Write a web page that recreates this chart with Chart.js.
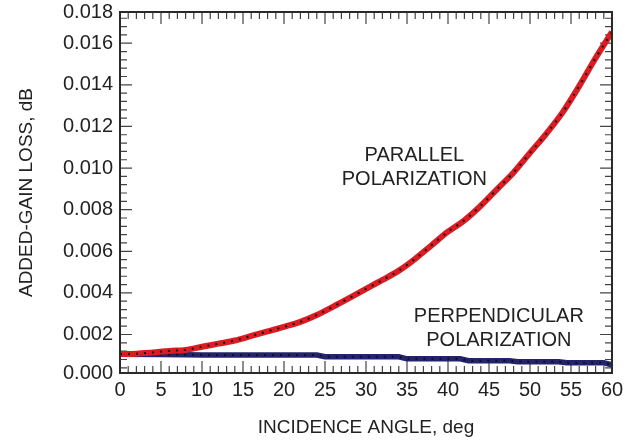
<!DOCTYPE html>
<html>
<head>
<meta charset="utf-8">
<script src="https://cdn.jsdelivr.net/npm/chart.js@4"></script>
<style>
  html, body { margin: 0; padding: 0; background: #fff; }
  #wrap { width: 625px; height: 446px; }
</style>
</head>
<body>
<div id="wrap"><canvas id="lossChart" width="625" height="446"></canvas></div>
<script>
// incidence angle (deg) and added-gain loss (dB)
const parAngles = [0, 2, 4, 6, 8, 10, 12, 14, 16, 18, 20, 22, 24, 26, 28, 30,
    32, 34, 36, 38, 40, 42, 44, 46, 48, 50, 52, 54, 56, 58, 60];
const parLoss = [0.00106, 0.00108, 0.00114, 0.00121, 0.00126, 0.00141, 0.00156, 0.00171,
    0.00193, 0.00215, 0.00237, 0.00261, 0.00294, 0.00334, 0.00376, 0.00419,
    0.00462, 0.00507, 0.00564, 0.00629, 0.00694, 0.00749, 0.00819, 0.00899,
    0.00979, 0.01073, 0.01166, 0.01269, 0.01394, 0.01529, 0.01654];

const perpAngles = [0, 5, 8, 10, 24, 25, 34, 35, 41.5, 42.5, 47.5, 48.5, 53.5, 54.5, 59, 60];
const perpLoss = [0.00105, 0.00104, 0.00103, 0.00101, 0.00101, 0.00093, 0.00093, 0.00083,
    0.00083, 0.00074, 0.00074, 0.00069, 0.00069, 0.00064, 0.00064, 0.00054];

const yTicks = [0.00015, 0.002, 0.004, 0.006, 0.008, 0.010, 0.012, 0.014, 0.016, 0.0175];
const yTickLabels = ["0.000", "0.002", "0.004", "0.006", "0.008", "0.010",
    "0.012", "0.014", "0.016", "0.018"];

const labels = [
    { text: ["PARALLEL", "POLARIZATION"], x: 35.9, y: 0.0106 },
    { text: ["PERPENDICULAR", "POLARIZATION"], x: 46.2, y: 0.00285 }
];

const pts = (xs, ys) => xs.map((x, i) => ({ x: x, y: ys[i] }));
const FONT = "'Liberation Sans', Arial, Helvetica, sans-serif";
const INK = "#222";

// frame with inward ticks on all four sides, plus the text labels
const frameTicks = {
    id: "frameTicks",
    beforeDatasetsDraw(chart) {
        const { ctx, chartArea: a, scales } = chart;
        ctx.save();
        ctx.strokeStyle = "#444";
        ctx.lineWidth = 1.2;
        ctx.beginPath();
        for (let d = 0; d <= 60; d++) {
            const px = scales.x.getPixelForValue(d);
            const len = d % 5 === 0 ? 12 : 7;
            ctx.moveTo(px, a.bottom); ctx.lineTo(px, a.bottom - len);
            ctx.moveTo(px, a.top); ctx.lineTo(px, a.top + len);
        }
        for (let k = 1; k <= 43; k++) {
            const v = k * 0.0004;
            if (v > scales.y.max || v < scales.y.min) continue;
            const py = scales.y.getPixelForValue(v);
            const len = k % 5 === 0 ? 12 : 7;
            ctx.moveTo(a.left, py); ctx.lineTo(a.left + len, py);
            ctx.moveTo(a.right, py); ctx.lineTo(a.right - len, py);
        }
        ctx.stroke();
        ctx.restore();
    },
    afterDatasetsDraw(chart) {
        const { ctx, chartArea: a, scales } = chart;
        ctx.save();
        ctx.strokeStyle = "#2a2a2a";
        ctx.lineWidth = 2;
        ctx.strokeRect(a.left, a.top, a.right - a.left, a.bottom - a.top);
        ctx.fillStyle = INK;
        ctx.font = "20px " + FONT;
        ctx.textAlign = "center";
        ctx.textBaseline = "middle";
        labels.forEach(l => {
            const px = scales.x.getPixelForValue(l.x);
            const py = scales.y.getPixelForValue(l.y);
            l.text.forEach((t, i) => ctx.fillText(t, px, py + i * 24));
        });
        ctx.restore();
    }
};

// index 0 is drawn on top
new Chart(document.getElementById("lossChart"), {
    type: "line",
    data: {
        datasets: [
            { data: pts(parAngles, parLoss), borderColor: "#111", borderWidth: 2, borderDash: [2, 6], cubicInterpolationMode: "monotone" },
            { data: pts(parAngles, parLoss), borderColor: "#dc1c22", borderWidth: 6, cubicInterpolationMode: "monotone" },
            { data: pts(perpAngles, perpLoss), borderColor: "#111", borderWidth: 2, borderDash: [2, 6] },
            { data: pts(perpAngles, perpLoss), borderColor: "#23236e", borderWidth: 5.5 }
        ]
    },
    options: {
        responsive: false,
        animation: false,
        elements: { point: { radius: 0 }, line: { borderCapStyle: "butt" } },
        layout: { padding: { top: 12, right: 13, left: 0, bottom: 0 } },
        plugins: { legend: { display: false }, tooltip: { enabled: false } },
        scales: {
            x: {
                type: "linear",
                min: 0,
                max: 60,
                grid: { display: false, drawTicks: false },
                border: { display: false },
                ticks: { stepSize: 5, padding: 5, color: INK, font: { family: FONT, size: 20 } },
                title: { display: true, text: "INCIDENCE ANGLE, deg", color: INK, padding: { top: 0, bottom: 7 },
                    font: { family: FONT, size: 19 } },
                afterFit(s) { s.height = 73; s.paddingLeft = 0; s.paddingRight = 0; }
            },
            y: {
                min: 0.00015,
                max: 0.0175,
                grid: { display: false, drawTicks: false },
                border: { display: false },
                afterBuildTicks(s) { s.ticks = yTicks.map(v => ({ value: v })); },
                ticks: {
                    padding: 7, color: INK, font: { family: FONT, size: 20 },
                    callback: (v, i) => yTickLabels[i]
                },
                title: { display: true, text: "ADDED-GAIN LOSS, dB", color: INK, padding: { top: 15, bottom: 0 },
                    font: { family: FONT, size: 19 } },
                afterFit(s) { s.width = 120; s.paddingTop = 0; s.paddingBottom = 0; }
            }
        }
    },
    plugins: [frameTicks]
});
</script>
</body>
</html>
